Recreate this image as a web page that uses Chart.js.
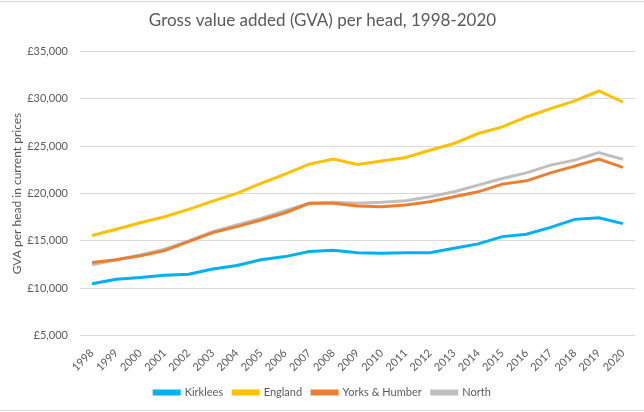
<!DOCTYPE html>
<html><head><meta charset="utf-8">
<script src="https://cdn.jsdelivr.net/npm/chart.js@4/dist/chart.umd.min.js"></script>
<style>html,body{margin:0;padding:0;background:#fff}#wrap{width:644px;height:412px}</style>
</head><body><div id="wrap"><canvas id="c" width="644" height="412"></canvas></div>
<script>
const years = ['1998','1999','2000','2001','2002','2003','2004','2005','2006','2007','2008','2009','2010','2011','2012','2013','2014','2015','2016','2017','2018','2019','2020'];
const kirklees = [10470,10960,11130,11380,11490,12040,12400,13000,13340,13870,14010,13760,13700,13760,13760,14220,14680,15450,15700,16430,17270,17450,16820];
const england = [15560,16220,16920,17550,18330,19200,20010,21060,22050,23100,23630,23060,23420,23800,24570,25280,26330,27030,28080,28960,29770,30820,29660];
const yorks = [12710,13000,13420,13970,14920,15870,16500,17200,17970,18960,18960,18680,18610,18780,19130,19660,20180,20990,21340,22180,22890,23630,22750];
const north = [12470,13000,13520,14120,14990,15970,16680,17380,18180,18960,19070,18960,19070,19240,19660,20180,20890,21590,22180,23000,23520,24330,23600];
const FONT = 'Lato, "Open Sans", sans-serif';
const frame = {id:'frame', beforeDraw(ch){const c=ch.ctx;c.save();c.strokeStyle='#d9d9d9';c.lineWidth=1;c.beginPath();c.moveTo(0,1.5);c.lineTo(644,1.5);c.moveTo(0,410.5);c.lineTo(644,410.5);c.stroke();c.restore();}};
function ds(label,data,color){return {label,data,borderColor:color,backgroundColor:color,borderWidth:3,pointRadius:0,tension:0,fill:false};}
new Chart(document.getElementById('c'),{
  type:'line',
  data:{labels:years,datasets:[ds('Kirklees',kirklees,'#00b0f0'),ds('England',england,'#ffc000'),ds('Yorks & Humber',yorks,'#ed7d31'),ds('North',north,'#bfbfbf')]},
  options:{
    responsive:false,animation:false,
    layout:{padding:{left:10,right:9,top:4,bottom:4}},
    plugins:{
      title:{display:true,text:'Gross value added (GVA) per head, 1998-2020',color:'#595959',font:{family:FONT,size:17,weight:'normal'},padding:{top:6,bottom:21}},
      legend:{position:'bottom',labels:{color:'#595959',font:{family:FONT,size:11},boxWidth:25,boxHeight:3,padding:10}},
      tooltip:{enabled:false}
    },
    scales:{
      x:{offset:true,grid:{display:false},border:{display:false},ticks:{color:'#595959',font:{family:FONT,size:11},maxRotation:45,minRotation:45,autoSkip:false}},
      y:{min:5000,max:35000,grid:{color:'#d9d9d9',lineWidth:1,drawTicks:false},border:{display:false},
         afterFit:s=>{s.width=70;},
         ticks:{stepSize:5000,padding:12,color:'#595959',font:{family:FONT,size:11},callback:v=>'£'+v.toLocaleString('en-GB')},
         title:{display:true,text:'GVA per head in current prices',color:'#595959',font:{family:FONT,size:12},padding:{top:0,bottom:0}}}
    }
  },
  plugins:[frame]
});
</script></body></html>
